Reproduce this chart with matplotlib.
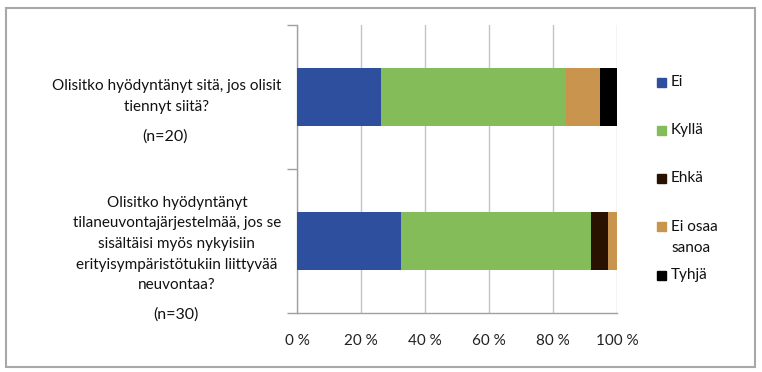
import numpy as np
import matplotlib
matplotlib.use('Agg')
import matplotlib.pyplot as plt
from matplotlib.patches import Rectangle

plt.rcParams['font.family'] = ['Lato', 'DejaVu Sans']

# Data (percent shares)
questions = ['Olisitko hyödyntänyt sitä, jos olisit\ntiennyt siitä?',
             'Olisitko hyödyntänyt\ntilaneuvontajärjestelmää, jos se\nsisältäisi myös nykyisiin\nerityisympäristötukiin liittyvää\nneuvontaa?']
sample_sizes = ['(n=20)', '(n=30)']
series = ['Ei', 'Kyllä', 'Ehkä', 'Ei osaa\nsanoa', 'Tyhjä']
ei = [26.3, 32.4]
kylla = [57.9, 59.5]
ehka = [0.0, 5.4]
ei_osaa = [10.5, 2.7]
tyhja = [5.3, 0.0]
colors = ['#2e4e9e', '#84bc5a', '#2a1200', '#c8944e', '#000000']
xticks = [0, 20, 40, 60, 80, 100]

W, H = 762, 372
LS = 1.6      # line spacing factor
LINE = 21     # px between text lines
fig = plt.figure(figsize=(W / 100, H / 100), dpi=100)
ax = fig.add_axes([297 / W, 1 - 313 / H, (617 - 297) / W, (313 - 25) / H])

pos = np.arange(len(questions))
left = np.zeros(len(questions))
for vals, c in zip([ei, kylla, ehka, ei_osaa, tyhja], colors):
    ax.barh(pos, vals, left=left, height=0.4, color=c, zorder=3)
    left += np.array(vals)

ax.set_xlim(0, 100)
ax.set_ylim(1.5, -0.5)
ax.set_xticks(xticks)
ax.set_xticklabels(['%d %%' % t for t in xticks], fontsize=11, color='#222222')
ax.tick_params(axis='x', length=0, pad=15)
ax.set_yticks([-0.5, 0.5, 1.5])
ax.set_yticklabels([])
ax.tick_params(axis='y', length=7, color='#a0a0a0', width=1)
ax.grid(axis='x', color='#c4c4c4', linewidth=1, zorder=0)
for s in ['top', 'right']:
    ax.spines[s].set_visible(False)
for s in ['left', 'bottom']:
    ax.spines[s].set_color('#a0a0a0')
    ax.spines[s].set_linewidth(1)

# category labels: right-aligned block, centred lines
label_tops = [86, 202]
n_pos = [137, 315]
n_x = [165, 176]
for q, n, yt, yn, xn in zip(questions, sample_sizes, label_tops, n_pos, n_x):
    nlines = len(q.split('\n'))
    yc = yt + LINE * (nlines - 1) / 2
    fig.text(281 / W, 1 - yc / H, q, ha='right', va='center', ma='center',
             fontsize=11, color='#111111', linespacing=LS)
    fig.text(xn / W, 1 - yn / H, n, ha='center', va='center',
             fontsize=11.5, color='#111111')

# legend
for i, (name, c) in enumerate(zip(series, colors)):
    y = 82 + 48.25 * i
    fig.patches.append(Rectangle((657 / W, 1 - (y + 4.5) / H), 9 / W, 9 / H,
                                 transform=fig.transFigure, color=c))
    nlines = len(name.split('\n'))
    yc = y + LINE * (nlines - 1) / 2
    fig.text(671 / W, 1 - yc / H, name, ha='left', va='center',
             fontsize=11, color='#111111', linespacing=LS)

fig.patches.append(Rectangle((6 / W, 1 - 367 / H), 749 / W, 359 / H,
                             transform=fig.transFigure, fill=False,
                             edgecolor='#a8a8a8', linewidth=1.5))

fig.savefig('out.png', dpi=100, facecolor='white')
